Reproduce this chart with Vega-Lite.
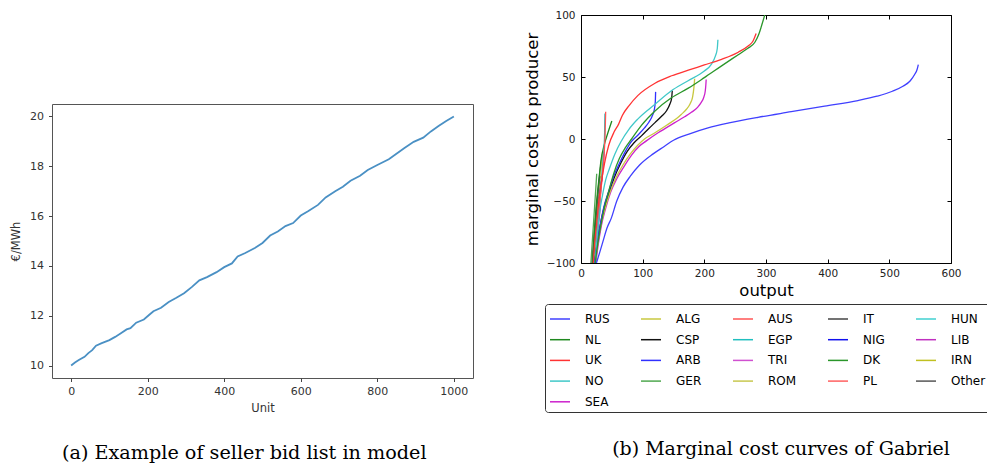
{
  "$schema": "https://vega.github.io/schema/vega-lite/v6.json",
  "padding": {"left": 10, "top": 9, "right": 0, "bottom": 0},
  "background": "white",
  "config": {"font": "DejaVu Sans", "view": {"stroke": null}},
  "columns": 2,
  "align": "none",
  "spacing": 49,
  "resolve": {"scale": {"color": "independent"}, "legend": {"color": "independent"}},
  "concat": [
    {
      "spacing": 0,
      "vconcat": [
        {
          "width": 421,
          "height": 88,
          "view": {"fill": "white", "stroke": null},
          "data": {"values": []},
          "mark": "point"
        },
        {
          "width": 421,
          "height": 274,
          "title": {"text": "(a) Example of seller bid list in model", "orient": "bottom", "anchor": "middle", "frame": "bounds", "dx": 2.5, "font": "DejaVu Serif", "fontSize": 19.2, "fontWeight": "normal", "color": "black", "offset": 30},
          "view": {"stroke": "#555555", "strokeWidth": 1},
          "data": {"values": [
            {"unit": 0, "price": 10.0}, {"unit": 10, "price": 10.12}, {"unit": 20, "price": 10.22}, {"unit": 35, "price": 10.35},
            {"unit": 45, "price": 10.5}, {"unit": 55, "price": 10.62}, {"unit": 65, "price": 10.8}, {"unit": 80, "price": 10.9},
            {"unit": 100, "price": 11.02}, {"unit": 115, "price": 11.15}, {"unit": 130, "price": 11.3}, {"unit": 145, "price": 11.45},
            {"unit": 155, "price": 11.5}, {"unit": 170, "price": 11.72}, {"unit": 190, "price": 11.85}, {"unit": 205, "price": 12.05},
            {"unit": 215, "price": 12.18}, {"unit": 235, "price": 12.32}, {"unit": 255, "price": 12.55}, {"unit": 275, "price": 12.72},
            {"unit": 295, "price": 12.9}, {"unit": 315, "price": 13.15}, {"unit": 335, "price": 13.42}, {"unit": 355, "price": 13.55},
            {"unit": 380, "price": 13.75}, {"unit": 400, "price": 13.95}, {"unit": 420, "price": 14.1}, {"unit": 435, "price": 14.38},
            {"unit": 455, "price": 14.52}, {"unit": 480, "price": 14.72}, {"unit": 500, "price": 14.92}, {"unit": 520, "price": 15.22},
            {"unit": 540, "price": 15.38}, {"unit": 560, "price": 15.6}, {"unit": 580, "price": 15.72}, {"unit": 600, "price": 16.02},
            {"unit": 620, "price": 16.2}, {"unit": 645, "price": 16.45}, {"unit": 665, "price": 16.75}, {"unit": 690, "price": 17.0},
            {"unit": 710, "price": 17.18}, {"unit": 730, "price": 17.42}, {"unit": 755, "price": 17.62}, {"unit": 775, "price": 17.85},
            {"unit": 800, "price": 18.05}, {"unit": 830, "price": 18.28}, {"unit": 850, "price": 18.5}, {"unit": 870, "price": 18.72},
            {"unit": 895, "price": 18.98}, {"unit": 920, "price": 19.15}, {"unit": 940, "price": 19.4}, {"unit": 960, "price": 19.62},
            {"unit": 980, "price": 19.82}, {"unit": 1000, "price": 20.0}
          ]},
          "mark": {"type": "line", "color": "#4a90c4", "strokeWidth": 1.8},
          "encoding": {
            "x": {"field": "unit", "type": "quantitative", "scale": {"domain": [-50, 1050], "nice": false, "zero": false},
                  "axis": {"values": [0, 200, 400, 600, 800, 1000], "format": "d", "labelFlush": false, "title": "Unit", "grid": false, "domain": false, "tickSize": 3.5, "tickColor": "#444444", "labelFontSize": 11, "labelColor": "#333333", "labelPadding": 4, "titleFontSize": 11.5, "titleFontWeight": "normal", "titleColor": "#333333", "titlePadding": 6}},
            "y": {"field": "price", "type": "quantitative", "scale": {"domain": [9.5, 20.5], "nice": false, "zero": false},
                  "axis": {"values": [10, 12, 14, 16, 18, 20], "title": "€/MWh", "grid": false, "domain": false, "tickSize": 3.5, "tickColor": "#444444", "labelFontSize": 11, "labelColor": "#333333", "labelPadding": 5, "titleFontSize": 11.5, "titleFontWeight": "normal", "titleColor": "#333333", "titlePadding": 8}}
          }
        }
      ]
    },
    {
      "width": 370,
      "height": 248,
      "title": {"text": "(b) Marginal cost curves of Gabriel", "orient": "bottom", "anchor": "middle", "frame": "group", "dx": 15, "font": "DejaVu Serif", "fontSize": 19, "fontWeight": "normal", "color": "black", "offset": 27},
      "view": {"stroke": "black", "strokeWidth": 1},
      "data": {"values": [
        {"c": "GER", "x": 16, "y": -100}, {"c": "GER", "x": 18, "y": -85}, {"c": "GER", "x": 20, "y": -70}, {"c": "GER", "x": 22, "y": -55}, {"c": "GER", "x": 24, "y": -40}, {"c": "GER", "x": 25.5, "y": -28},
        {"c": "PL", "x": 21, "y": -100}, {"c": "PL", "x": 24, "y": -80}, {"c": "PL", "x": 27, "y": -62}, {"c": "PL", "x": 30, "y": -47}, {"c": "PL", "x": 33, "y": -35}, {"c": "PL", "x": 35, "y": -28},
        {"c": "IT", "x": 18, "y": -100}, {"c": "IT", "x": 21, "y": -80}, {"c": "IT", "x": 24, "y": -62}, {"c": "IT", "x": 27, "y": -45}, {"c": "IT", "x": 30, "y": -30}, {"c": "IT", "x": 33, "y": -18}, {"c": "IT", "x": 35, "y": -12},
        {"c": "ROM", "x": 20, "y": -100}, {"c": "ROM", "x": 23, "y": -80}, {"c": "ROM", "x": 26, "y": -62}, {"c": "ROM", "x": 29, "y": -45}, {"c": "ROM", "x": 31.5, "y": -30}, {"c": "ROM", "x": 33.5, "y": -18}, {"c": "ROM", "x": 35, "y": -10},
        {"c": "TRI", "x": 22, "y": -100}, {"c": "TRI", "x": 25, "y": -82}, {"c": "TRI", "x": 28, "y": -65}, {"c": "TRI", "x": 31, "y": -48}, {"c": "TRI", "x": 34, "y": -32}, {"c": "TRI", "x": 36.5, "y": -20}, {"c": "TRI", "x": 38, "y": -10},
        {"c": "NIG", "x": 20, "y": -100}, {"c": "NIG", "x": 23, "y": -82}, {"c": "NIG", "x": 26, "y": -65}, {"c": "NIG", "x": 29, "y": -50}, {"c": "NIG", "x": 32, "y": -38}, {"c": "NIG", "x": 34.5, "y": -30},
        {"c": "HUN", "x": 21, "y": -100}, {"c": "HUN", "x": 24, "y": -82}, {"c": "HUN", "x": 27, "y": -65}, {"c": "HUN", "x": 30, "y": -50}, {"c": "HUN", "x": 32.5, "y": -38},
        {"c": "LIB", "x": 23, "y": -100}, {"c": "LIB", "x": 26, "y": -82}, {"c": "LIB", "x": 29, "y": -66}, {"c": "LIB", "x": 31.5, "y": -54},
        {"c": "IRN", "x": 19, "y": -100}, {"c": "IRN", "x": 22, "y": -82}, {"c": "IRN", "x": 25, "y": -64}, {"c": "IRN", "x": 28, "y": -48},
        {"c": "Other", "x": 19, "y": -100}, {"c": "Other", "x": 22, "y": -80}, {"c": "Other", "x": 25, "y": -60}, {"c": "Other", "x": 28, "y": -42}, {"c": "Other", "x": 30.5, "y": -30},
        {"c": "NL", "x": 19, "y": -100}, {"c": "NL", "x": 21, "y": -80}, {"c": "NL", "x": 23, "y": -65}, {"c": "NL", "x": 24.5, "y": -55}, {"c": "NL", "x": 27, "y": -42}, {"c": "NL", "x": 30, "y": -28}, {"c": "NL", "x": 32.5, "y": -17}, {"c": "NL", "x": 37, "y": -6}, {"c": "NL", "x": 43, "y": 4}, {"c": "NL", "x": 50, "y": 14.5},
        {"c": "EGP", "x": 24, "y": -100}, {"c": "EGP", "x": 26, "y": -85}, {"c": "EGP", "x": 28, "y": -70}, {"c": "EGP", "x": 30, "y": -55}, {"c": "EGP", "x": 32, "y": -40}, {"c": "EGP", "x": 34.5, "y": -25}, {"c": "EGP", "x": 36.5, "y": -12}, {"c": "EGP", "x": 37.8, "y": -4}, {"c": "EGP", "x": 38.3, "y": 5}, {"c": "EGP", "x": 38.6, "y": 14}, {"c": "EGP", "x": 38.9, "y": 20.5},
        {"c": "AUS", "x": 23, "y": -100}, {"c": "AUS", "x": 25, "y": -85}, {"c": "AUS", "x": 27.5, "y": -70}, {"c": "AUS", "x": 30, "y": -55}, {"c": "AUS", "x": 32.5, "y": -40}, {"c": "AUS", "x": 35, "y": -27}, {"c": "AUS", "x": 37, "y": -15}, {"c": "AUS", "x": 38.5, "y": -3}, {"c": "AUS", "x": 39.3, "y": 8}, {"c": "AUS", "x": 39.7, "y": 16}, {"c": "AUS", "x": 40, "y": 22},
        {"c": "SEA", "x": 24, "y": -100}, {"c": "SEA", "x": 28, "y": -85}, {"c": "SEA", "x": 33, "y": -70}, {"c": "SEA", "x": 40, "y": -56}, {"c": "SEA", "x": 48, "y": -43}, {"c": "SEA", "x": 58, "y": -32}, {"c": "SEA", "x": 70, "y": -22}, {"c": "SEA", "x": 82, "y": -13}, {"c": "SEA", "x": 94, "y": -6}, {"c": "SEA", "x": 106, "y": -1.5}, {"c": "SEA", "x": 125, "y": 5}, {"c": "SEA", "x": 152, "y": 13.2}, {"c": "SEA", "x": 168, "y": 18}, {"c": "SEA", "x": 179, "y": 21.5}, {"c": "SEA", "x": 189, "y": 25.5}, {"c": "SEA", "x": 195, "y": 29.5}, {"c": "SEA", "x": 199, "y": 33.5}, {"c": "SEA", "x": 201.5, "y": 38.7}, {"c": "SEA", "x": 202.5, "y": 44}, {"c": "SEA", "x": 203, "y": 48},
        {"c": "ALG", "x": 23, "y": -100}, {"c": "ALG", "x": 27, "y": -85}, {"c": "ALG", "x": 32, "y": -70}, {"c": "ALG", "x": 39, "y": -56}, {"c": "ALG", "x": 47, "y": -43}, {"c": "ALG", "x": 57, "y": -31}, {"c": "ALG", "x": 68, "y": -21}, {"c": "ALG", "x": 80, "y": -12}, {"c": "ALG", "x": 92, "y": -5}, {"c": "ALG", "x": 103, "y": 0}, {"c": "ALG", "x": 120, "y": 5}, {"c": "ALG", "x": 141, "y": 11.8}, {"c": "ALG", "x": 155, "y": 16.5}, {"c": "ALG", "x": 163, "y": 20}, {"c": "ALG", "x": 171, "y": 24}, {"c": "ALG", "x": 177, "y": 28.5}, {"c": "ALG", "x": 181, "y": 34}, {"c": "ALG", "x": 183, "y": 41}, {"c": "ALG", "x": 184.3, "y": 48.6},
        {"c": "CSP", "x": 22, "y": -100}, {"c": "CSP", "x": 26, "y": -85}, {"c": "CSP", "x": 31, "y": -70}, {"c": "CSP", "x": 37, "y": -56}, {"c": "CSP", "x": 45, "y": -43}, {"c": "CSP", "x": 54, "y": -31}, {"c": "CSP", "x": 64, "y": -20}, {"c": "CSP", "x": 75, "y": -10}, {"c": "CSP", "x": 86, "y": -3}, {"c": "CSP", "x": 98, "y": 2.5}, {"c": "CSP", "x": 110, "y": 8.5}, {"c": "CSP", "x": 120, "y": 13.2}, {"c": "CSP", "x": 131, "y": 18.5}, {"c": "CSP", "x": 139, "y": 23}, {"c": "CSP", "x": 144, "y": 28}, {"c": "CSP", "x": 147, "y": 33}, {"c": "CSP", "x": 148, "y": 39},
        {"c": "ARB", "x": 22, "y": -100}, {"c": "ARB", "x": 26, "y": -85}, {"c": "ARB", "x": 31, "y": -70}, {"c": "ARB", "x": 37, "y": -55}, {"c": "ARB", "x": 45, "y": -42}, {"c": "ARB", "x": 53, "y": -30}, {"c": "ARB", "x": 62, "y": -20}, {"c": "ARB", "x": 72, "y": -10}, {"c": "ARB", "x": 82, "y": -2}, {"c": "ARB", "x": 92, "y": 3}, {"c": "ARB", "x": 103, "y": 9}, {"c": "ARB", "x": 110, "y": 13.5}, {"c": "ARB", "x": 115, "y": 18}, {"c": "ARB", "x": 119, "y": 24}, {"c": "ARB", "x": 120.5, "y": 30}, {"c": "ARB", "x": 121, "y": 38},
        {"c": "NO", "x": 23, "y": -100}, {"c": "NO", "x": 26, "y": -80}, {"c": "NO", "x": 30, "y": -60}, {"c": "NO", "x": 35, "y": -45}, {"c": "NO", "x": 40, "y": -33}, {"c": "NO", "x": 46, "y": -24}, {"c": "NO", "x": 55, "y": -12}, {"c": "NO", "x": 65, "y": -2}, {"c": "NO", "x": 78, "y": 8}, {"c": "NO", "x": 92, "y": 16}, {"c": "NO", "x": 120, "y": 28}, {"c": "NO", "x": 146, "y": 38.7}, {"c": "NO", "x": 173, "y": 46.8}, {"c": "NO", "x": 200, "y": 54.8}, {"c": "NO", "x": 211, "y": 60}, {"c": "NO", "x": 218, "y": 67}, {"c": "NO", "x": 221, "y": 73}, {"c": "NO", "x": 222, "y": 80},
        {"c": "DK", "x": 23, "y": -100}, {"c": "DK", "x": 27, "y": -85}, {"c": "DK", "x": 32, "y": -70}, {"c": "DK", "x": 38, "y": -55}, {"c": "DK", "x": 45, "y": -42}, {"c": "DK", "x": 53, "y": -28}, {"c": "DK", "x": 62, "y": -16}, {"c": "DK", "x": 72, "y": -7}, {"c": "DK", "x": 82, "y": 0}, {"c": "DK", "x": 98, "y": 11}, {"c": "DK", "x": 120, "y": 22.6}, {"c": "DK", "x": 146, "y": 33}, {"c": "DK", "x": 174, "y": 41}, {"c": "DK", "x": 200, "y": 49.5}, {"c": "DK", "x": 228, "y": 59}, {"c": "DK", "x": 255, "y": 68}, {"c": "DK", "x": 270, "y": 73}, {"c": "DK", "x": 282, "y": 78}, {"c": "DK", "x": 288, "y": 84}, {"c": "DK", "x": 292, "y": 90}, {"c": "DK", "x": 295, "y": 95}, {"c": "DK", "x": 298, "y": 100},
        {"c": "UK", "x": 20, "y": -100}, {"c": "UK", "x": 22, "y": -85}, {"c": "UK", "x": 25, "y": -70}, {"c": "UK", "x": 29, "y": -50}, {"c": "UK", "x": 33, "y": -35}, {"c": "UK", "x": 38, "y": -20}, {"c": "UK", "x": 45, "y": -5}, {"c": "UK", "x": 54, "y": 6}, {"c": "UK", "x": 61, "y": 12}, {"c": "UK", "x": 67, "y": 19}, {"c": "UK", "x": 78, "y": 27}, {"c": "UK", "x": 92, "y": 35}, {"c": "UK", "x": 120, "y": 45}, {"c": "UK", "x": 147, "y": 51}, {"c": "UK", "x": 174, "y": 55.5}, {"c": "UK", "x": 200, "y": 59.7}, {"c": "UK", "x": 228, "y": 64.3}, {"c": "UK", "x": 255, "y": 70}, {"c": "UK", "x": 271, "y": 75}, {"c": "UK", "x": 279, "y": 79}, {"c": "UK", "x": 284, "y": 85},
        {"c": "RUS", "x": 25, "y": -100}, {"c": "RUS", "x": 30, "y": -92}, {"c": "RUS", "x": 36, "y": -82}, {"c": "RUS", "x": 42, "y": -72}, {"c": "RUS", "x": 49, "y": -64}, {"c": "RUS", "x": 58, "y": -50}, {"c": "RUS", "x": 68, "y": -39}, {"c": "RUS", "x": 80, "y": -30}, {"c": "RUS", "x": 95, "y": -21}, {"c": "RUS", "x": 117, "y": -12}, {"c": "RUS", "x": 135, "y": -6}, {"c": "RUS", "x": 150, "y": -1}, {"c": "RUS", "x": 175, "y": 4}, {"c": "RUS", "x": 206, "y": 9}, {"c": "RUS", "x": 240, "y": 13}, {"c": "RUS", "x": 287, "y": 17.5}, {"c": "RUS", "x": 341, "y": 22}, {"c": "RUS", "x": 395, "y": 26.5}, {"c": "RUS", "x": 449, "y": 31}, {"c": "RUS", "x": 480, "y": 34.5}, {"c": "RUS", "x": 505, "y": 38.5}, {"c": "RUS", "x": 522, "y": 42.5}, {"c": "RUS", "x": 534, "y": 47}, {"c": "RUS", "x": 541, "y": 52}, {"c": "RUS", "x": 545, "y": 56}, {"c": "RUS", "x": 547, "y": 60}
      ]},
      "layer": [
        {
          "mark": {"type": "line", "strokeWidth": 1.3, "interpolate": "monotone", "clip": true},
          "encoding": {
            "x": {"field": "x", "type": "quantitative", "scale": {"domain": [0, 600], "nice": false, "zero": false},
                  "axis": {"values": [0, 100, 200, 300, 400, 500, 600], "labelFlush": false, "title": "output", "grid": false, "domain": false, "tickSize": -4, "tickColor": "black", "labelFontSize": 10.5, "labelColor": "#222222", "labelPadding": 9, "titleFontSize": 16.5, "titleFontWeight": "normal", "titleColor": "black", "titlePadding": 4}},
            "y": {"field": "y", "type": "quantitative", "scale": {"domain": [-100, 100], "nice": false, "zero": false},
                  "axis": {"values": [-100, -50, 0, 50, 100], "title": "marginal cost to producer", "grid": false, "domain": false, "tickSize": -4, "tickColor": "black", "labelFontSize": 10.5, "labelColor": "#222222", "labelPadding": 10, "titleFontSize": 16.5, "titleFontWeight": "normal", "titleColor": "black", "titlePadding": 6}},
            "color": {"field": "c", "type": "nominal",
                      "scale": {"domain": ["RUS", "ALG", "AUS", "IT", "HUN", "NL", "CSP", "EGP", "NIG", "LIB", "UK", "ARB", "TRI", "DK", "IRN", "NO", "GER", "ROM", "PL", "Other", "SEA"],
                                "range": ["#4040ff", "#c8c840", "#ff5555", "#444444", "#40d0d0", "#1f881f", "#111111", "#20bfbf", "#1010ee", "#c030c0", "#ff3333", "#3030ff", "#d050d0", "#2a962a", "#c0c020", "#40c8c8", "#50a850", "#c8c850", "#ff6060", "#555555", "#cc22cc"]},
                      "legend": {"orient": "none", "legendX": -36, "legendY": 289, "direction": "horizontal", "columns": 5, "title": null, "symbolType": "stroke", "symbolSize": 400, "symbolStrokeWidth": 1.5, "labelFont": "DejaVu Sans", "labelFontSize": 12, "labelColor": "black", "labelOffset": 14, "columnPadding": 28, "rowPadding": 3.7, "padding": 4, "strokeColor": "#333333", "fillColor": "white", "cornerRadius": 3}}
          }
        },
        {
          "mark": {"type": "point", "opacity": 0},
          "encoding": {
            "x": {"field": "x", "type": "quantitative", "axis": {"orient": "top", "values": [0, 100, 200, 300, 400, 500, 600], "labels": false, "title": null, "grid": false, "domain": false, "tickSize": -4, "tickColor": "black"}},
            "y": {"field": "y", "type": "quantitative", "axis": {"orient": "right", "values": [-100, -50, 0, 50, 100], "labels": false, "title": null, "grid": false, "domain": false, "tickSize": -4, "tickColor": "black"}}
          }
        }
      ],
      "resolve": {"axis": {"x": "independent", "y": "independent"}}
    }
  ]
}
